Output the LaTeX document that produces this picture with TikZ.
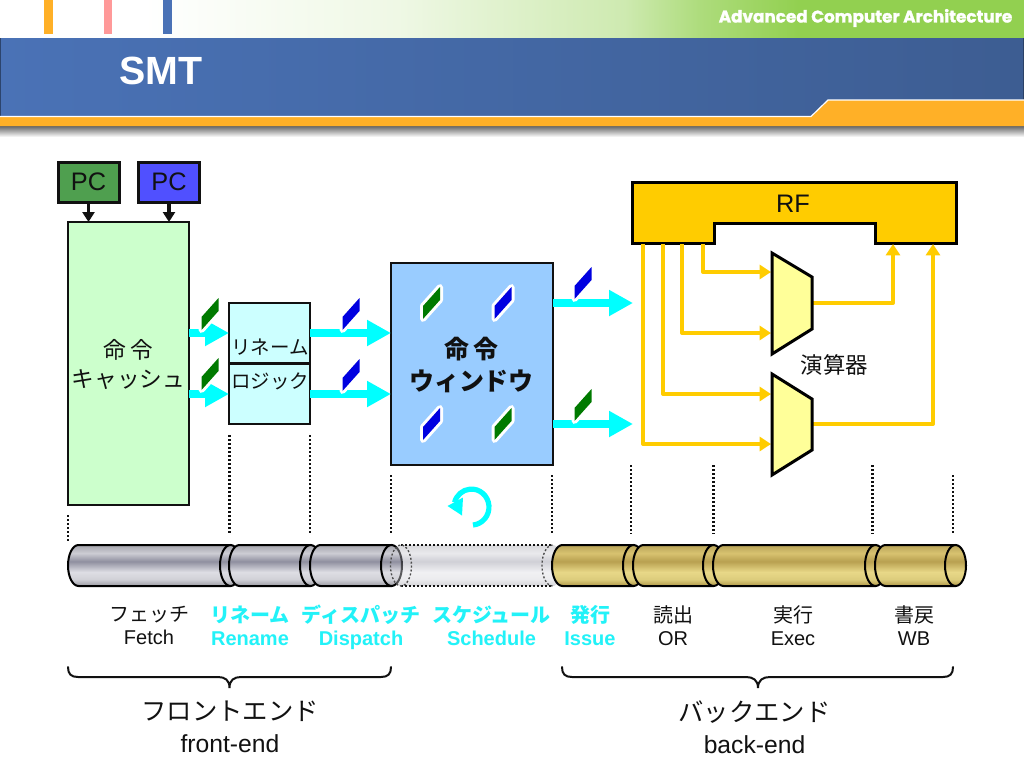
\documentclass[tikz,border=0pt]{standalone}
\usepackage{fontspec}
\setmainfont{Liberation Sans}
\newfontfamily\jp{Noto Sans CJK JP}
\newfontfamily\hdfont[BoldFeatures={FakeBold=1.6}]{Poppins}
\usetikzlibrary{arrows.meta,calc}
\definecolor{hdblueL}{HTML}{4A72B6}
\definecolor{hdblueR}{HTML}{3D5D92}
\definecolor{hdorange}{HTML}{FFB027}
\definecolor{hdgreen}{HTML}{92D050}
\definecolor{rfgold}{HTML}{FFCC00}
\definecolor{pcgreen}{HTML}{4F9F4F}
\definecolor{pcblue}{HTML}{5050FF}
\definecolor{icachefill}{HTML}{CCFFCC}
\definecolor{renamefill}{HTML}{CCFFFF}
\definecolor{winfill}{HTML}{99CCFF}
\definecolor{alufill}{HTML}{FFFF99}
\definecolor{tkgreen}{HTML}{007A00}
\definecolor{tkblue}{HTML}{0000E0}
\definecolor{lblcyan}{HTML}{22F2F8}
\definecolor{flowcyan}{HTML}{00FFFF}
\definecolor{ink}{HTML}{111111}
\pgfdeclarehorizontalshading{topgreen}{100bp}{color(0bp)=(white);color(25bp)=(white);color(32bp)=(white);color(44.5bp)=(hdgreen!15!white);color(55.5bp)=(hdgreen!45!white);color(59.2bp)=(hdgreen!75!white);color(64bp)=(hdgreen);color(75bp)=(hdgreen);color(100bp)=(hdgreen)}
\pgfdeclarehorizontalshading{barblue}{100bp}{color(0bp)=(hdblueL);color(25bp)=(hdblueL);color(75bp)=(hdblueR);color(100bp)=(hdblueR)}
\pgfdeclareverticalshading{barshadow}{100bp}{color(0bp)=(white);color(25bp)=(white);color(75bp)=(black!60);color(100bp)=(black!60)}
\definecolor{gyA}{HTML}{9A9AA2}\definecolor{gyB}{HTML}{D0D0D6}\definecolor{gyC}{HTML}{DEDEE4}\definecolor{gyD}{HTML}{8F8F9F}\definecolor{gyE}{HTML}{CDCDD4}\definecolor{gyF}{HTML}{A5A5AD}
\definecolor{glA}{HTML}{B09848}\definecolor{glB}{HTML}{DCCC7C}\definecolor{glC}{HTML}{E8D888}\definecolor{glD}{HTML}{B8A050}\definecolor{glE}{HTML}{D8C270}\definecolor{glF}{HTML}{B8A458}
\pgfdeclareverticalshading{cylgray}{100bp}{color(0bp)=(gyA);color(25bp)=(gyA);color(33bp)=(gyB);color(42bp)=(gyC);color(55bp)=(gyD);color(65bp)=(gyE);color(75bp)=(gyF);color(100bp)=(gyF)}
\pgfdeclareverticalshading{cylgold}{100bp}{color(0bp)=(glA);color(25bp)=(glA);color(33bp)=(glB);color(42bp)=(glC);color(55bp)=(glD);color(65bp)=(glE);color(75bp)=(glF);color(100bp)=(glF)}
\tikzset{
  x=0.75pt,y=-0.75pt,
  line join=miter,
  blockbox/.style={draw=ink,line width=2.0pt,inner sep=0pt,outer sep=0pt,text=ink},
  pcbox/.style={blockbox,line width=2.25pt,font=\fontsize{19}{22}\selectfont},
  jptext/.style={font=\jp\fontsize{17}{20.5}\selectfont,align=center,text=ink,inner sep=0pt},
  lbl/.style={font=\fontsize{15}{17.5}\selectfont,align=center,text=ink,inner sep=0pt},
  lblhot/.style={font=\bfseries\fontsize{15}{17.5}\selectfont,align=center,text=lblcyan,inner sep=0pt},
  endlbl/.style={font=\fontsize{18.5}{24}\selectfont,align=center,text=ink,inner sep=0pt},
  pcarrow/.style={draw=ink,line width=2.5pt,-{Triangle[length=7.5pt,width=9pt]},shorten <=1pt},
  flowarrow/.style={draw=flowcyan,line width=6pt,-{Triangle[length=18pt,width=18.5pt]}},
  regarrow/.style={draw=rfgold,line width=3pt,line join=round,-{Triangle[length=8.5pt,width=10.5pt]}},
  alushape/.style={draw=black,fill=alufill,line width=2.25pt},
  dotline/.style={draw=ink,line width=1.6pt,dash pattern=on 1.5pt off 1.5pt},
  brace/.style={draw=ink,line width=1.5pt,line cap=round},
  graycyl/.style={shade,shading=cylgray},
  goldcyl/.style={shade,shading=cylgold},
  cylline/.style={draw=black,line width=1.5pt},
}
\newcommand\tk[3]{%
  \draw[draw=white,fill=white,line width=4.5pt,line join=round] ({#1-8.5},{#2+3}) -- ({#1+8.5},{#2-16}) -- ({#1+8.5},{#2-3}) -- ({#1-8.5},{#2+16}) -- cycle;
  \fill[#3] ({#1-8.5},{#2+3}) -- ({#1+8.5},{#2-16}) -- ({#1+8.5},{#2-3}) -- ({#1-8.5},{#2+16}) -- cycle;}
\newcommand\cyl[3]{%
  \path[#3] ({#1+10.5},545) arc (270:90:10.5 and 20.5) -- ({#2-10.5},586) arc (90:-90:10.5 and 20.5) -- cycle;
  \draw[cylline] ({#2-10.5},545) -- ({#1+10.5},545) arc (270:90:10.5 and 20.5) -- ({#2-10.5},586);
  \path[#3,cylline] ({#2-10.5},565.5) ellipse (10.5 and 20.5);}
\begin{document}
\begin{tikzpicture}
\useasboundingbox (0,0) rectangle (1024,768);
\fill[white] (0,0) rectangle (1024,768);
% header
\path[shade,shading=topgreen] (0,0) rectangle (1024,38);
\fill[hdorange] (44,0) rectangle (53,34);
\fill[red!40!white] (104,0) rectangle (112,34);
\fill[hdblueL] (163,0) rectangle (172,34);
\path[shade,shading=barshadow] (0,126) rectangle (1024,137);
\path[shade,shading=barblue] (0,38) rectangle (1024,118);
\fill[hdblueL!60!black] (0,38) rectangle (1,116);
\fill[hdblueR!70!black] (1023,38) rectangle (1024,100);
\fill[hdorange] (0,117) -- (811,117) -- (828,100) -- (1024,100) -- (1024,126) -- (0,126) -- cycle;
\draw[white,line width=0.9pt] (0,116.5) -- (811,116.5) -- (828,100) -- (1024,100);
\node[inner sep=0pt,text=white,font=\bfseries\fontsize{29.5}{32}\selectfont] (title) at (161,71) {SMT};
\node[inner sep=0pt,text=white,font=\hdfont\bfseries\fontsize{12.6}{16}\selectfont] (course) at (865.5,18) {Advanced Computer Architecture};
% PCs and i-cache
\node[blockbox,fill=icachefill,minimum width={121*0.75pt},minimum height={283*0.75pt}] (icache) at (128.5,363.5) {};
\node[pcbox,fill=pcgreen,minimum width={61*0.75pt},minimum height={40*0.75pt}] (pcA) at (88.5,182) {PC};
\node[pcbox,fill=pcblue,minimum width={61*0.75pt},minimum height={40*0.75pt}] (pcB) at (169,182) {PC};
\draw[pcarrow] (pcA.south) -- (pcA.south |- icache.north);
\draw[pcarrow] (pcB.south) -- (pcB.south |- icache.north);
\node[jptext] (icachetxt) at (128.5,364.5) {命\,令\\[1pt]キャッシュ};
% rename
\node[blockbox,fill=renamefill,minimum width={81*0.75pt},minimum height={121*0.75pt}] (rename) at (269.5,363.5) {};
\draw[draw=ink,line width=2pt] (rename.west) -- (rename.east);
\node[jptext,font=\jp\fontsize{14.6}{18}\selectfont] (renameA) at (270,347) {リネーム};
\node[jptext,font=\jp\fontsize{14.6}{18}\selectfont] (renameB) at (270,381) {ロジック};
% window
\node[blockbox,fill=winfill,minimum width={162*0.75pt},minimum height={202*0.75pt}] (window) at (472,364) {};
\node[jptext,font=\jp\bfseries\fontsize{18.7}{23.5}\selectfont] (windowtxt) at (471.5,365) {命\,令\\ウィンドウ};
% flow arrows
\coordinate (wA) at (window.west |- 0,333);
\coordinate (wB) at (window.west |- 0,394);
\draw[flowarrow] (icache.east |- 0,333) -- (rename.west |- 0,333);
\draw[flowarrow] (icache.east |- 0,394) -- (rename.west |- 0,394);
\draw[flowarrow] (rename.east |- 0,333) -- (wA);
\draw[flowarrow] (rename.east |- 0,394) -- (wB);
\coordinate (outA) at (633,303);
\coordinate (outB) at (633,424);
\draw[flowarrow] (window.east |- outA) -- (outA);
\draw[flowarrow] (window.east |- outB) -- (outB);
% tokens
\tk{210}{314}{tkgreen}
\tk{210}{374}{tkgreen}
\tk{351}{314}{tkblue}
\tk{351}{375}{tkblue}
\tk{431.5}{303}{tkgreen}
\tk{503}{303}{tkblue}
\tk{431.5}{424}{tkblue}
\tk{503}{424}{tkgreen}
\tk{583}{283}{tkblue}
\tk{583}{405}{tkgreen}
% cycle arrow
\draw[flowcyan,line width=3.9pt] (473,525) arc (85:-165:17.5 and 18);
\fill[flowcyan] (447.5,506) -- (463,497.5) -- (462,515.5) -- cycle;
% RF
\draw[fill=rfgold,draw=black,line width=2.25pt] (632.5,182) -- (956,182) -- (956,243) -- (875,243) -- (875,223) -- (714,223) -- (714,243) -- (632.5,243) -- cycle;
\node[inner sep=0pt,text=ink,font=\fontsize{19}{22}\selectfont] (rf) at (793,204) {RF};
\coordinate (rfA) at (703,244);
\coordinate (rfB) at (682,244);
\coordinate (rfC) at (663,244);
\coordinate (rfD) at (643,244);
\coordinate (rfE) at (893,244);
\coordinate (rfF) at (933,244);
\coordinate (aluAa) at (771,272);
\coordinate (aluAb) at (771,333);
\coordinate (aluBa) at (771,394);
\coordinate (aluBb) at (771,444);
\coordinate (aluAo) at (812,303);
\coordinate (aluBo) at (812,424);
\draw[regarrow] (rfA) |- (aluAa);
\draw[regarrow] (rfB) |- (aluAb);
\draw[regarrow] (rfC) |- (aluBa);
\draw[regarrow] (rfD) |- (aluBb);
\draw[regarrow] (aluAo) -| (rfE);
\draw[regarrow] (aluBo) -| (rfF);
\draw[alushape] (772,253) -- (812,277) -- (812,329) -- (772,354) -- cycle;
\draw[alushape] (772,374) -- (812,399) -- (812,450) -- (772,475) -- cycle;
\node[jptext,font=\jp\fontsize{16.8}{20}\selectfont] (alutxt) at (834.5,365) {演算器};
% dotted guides
\draw[dotline] (68,515) -- (68,543);
\draw[dotline] (229.5,435) -- (229.5,534);
\draw[dotline] (310,435) -- (310,534);
\draw[dotline] (391,475) -- (391,534);
\draw[dotline] (552,475) -- (552,534);
\draw[dotline] (631,465) -- (631,534);
\draw[dotline] (713.5,465) -- (713.5,534);
\draw[dotline] (872.5,465) -- (872.5,534);
\draw[dotline] (953,475) -- (953,534);
% pipeline
\cyl{68}{241}{graycyl}
\cyl{229}{321}{graycyl}
\cyl{310}{402}{graycyl}
\path[shade,shading=cylgray,opacity=0.42] (401,545) arc (270:90:10.5 and 20.5) -- (552.5,586) arc (90:-90:10.5 and 20.5) -- cycle;
\draw[dotline,line width=1.2pt] (401,545) -- (552.5,545) (401,586) -- (552.5,586);
\draw[dotline,line width=1pt,draw=black!70] (401,565.5) ellipse (10.5 and 20.5);
\draw[dotline,line width=1pt,draw=black!70] (552.5,545) arc (270:90:10.5 and 20.5);
\cyl{552}{644}{goldcyl}
\cyl{633}{724}{goldcyl}
\cyl{713}{886}{goldcyl}
\cyl{875}{966}{goldcyl}
% stage labels
\node[lbl] (sA) at (149,629) {\jp フェッチ\\Fetch\strut};
\node[lblhot] (sB) at (250,629) {\jp\bfseries リネーム\\Rename\strut};
\node[lblhot] (sC) at (361,629) {\jp\bfseries ディスパッチ\\Dispatch\strut};
\node[lblhot] (sD) at (491.5,629) {\jp\bfseries スケジュール\\Schedule\strut};
\node[lblhot] (sE) at (590,629) {\jp\bfseries 発行\\Issue\strut};
\node[lbl] (sF) at (673,629) {\jp 読出\\OR\strut};
\node[lbl] (sG) at (793,629) {\jp 実行\\Exec\strut};
\node[lbl] (sH) at (914,629) {\jp 書戻\\WB\strut};
% braces
\coordinate (brL) at (68,667);
\coordinate (brLtip) at (229.5,688);
\coordinate (brLr) at (391,667);
\coordinate (brR) at (562,667);
\coordinate (brRtip) at (758,688);
\coordinate (brRr) at (953,667);
\draw[brace] (brL) .. controls (68,674) and (71,677) .. (78,677) -- (218,677) .. controls (225,677) and (229.5,680) .. (brLtip) .. controls (229.5,680) and (234,677) .. (241,677) -- (381,677) .. controls (388,677) and (brLr |- 0,674) .. (brLr);
\draw[brace] (brR) .. controls (562,674) and (565,677) .. (572,677) -- (746,677) .. controls (753,677) and (758,680) .. (brRtip) .. controls (758,680) and (763,677) .. (770,677) -- (943,677) .. controls (950,677) and (953,674) .. (brRr);
\node[endlbl] (fe) at (230,727) {\jp\fontsize{19}{24}\selectfont フロントエンド\\front-end};
\node[endlbl] (be) at (754.5,727) {\jp\fontsize{19}{24}\selectfont バックエンド\\back-end};
\end{tikzpicture}
\end{document}
